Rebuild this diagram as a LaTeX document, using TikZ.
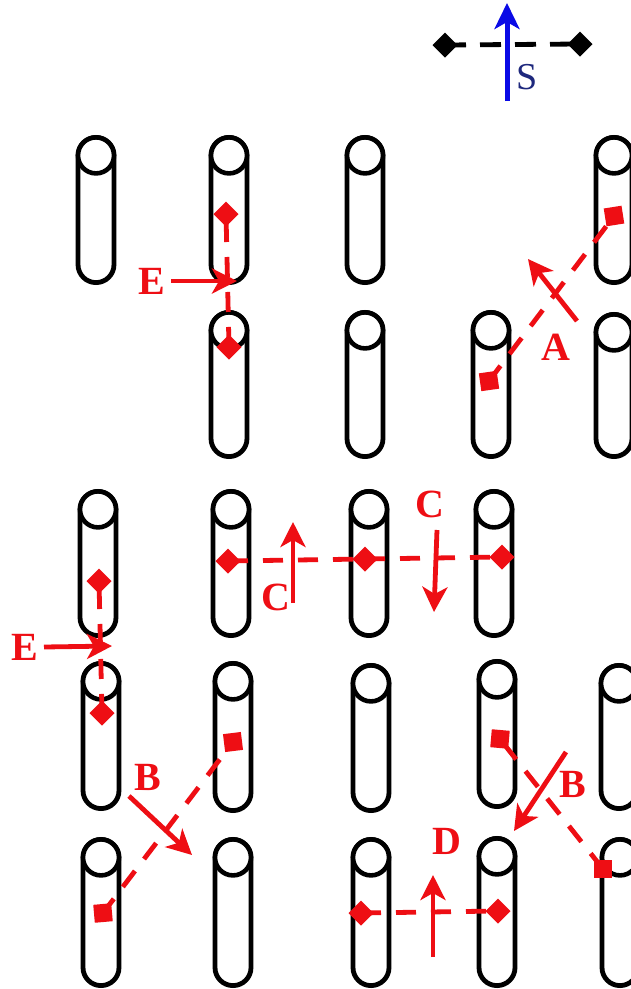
\documentclass[tikz,border=0pt]{standalone}
\usepackage{fontspec}
\setmainfont{Liberation Serif}
\usetikzlibrary{arrows.meta,shapes.geometric}
\definecolor{rd}{RGB}{238,14,20}
\definecolor{bl}{RGB}{10,10,230}
\definecolor{nv}{RGB}{30,40,125}
\tikzset{
  x=1pt,y=-1pt,
  tube/.style={draw=black,line width=4.8pt,rounded corners=18pt,minimum width=36pt,inner sep=0pt,outer sep=0pt},
  capcircle/.style={circle,draw=black,fill=white,line width=4.6pt,minimum size=36pt,inner sep=0pt,outer sep=0pt},
  rdia/.style={diamond,fill=rd,minimum width=25pt,minimum height=25pt,inner sep=0pt,outer sep=0pt},
  kdia/.style={diamond,fill=black,minimum width=25pt,minimum height=25pt,inner sep=0pt,outer sep=0pt},
  rsq/.style={rectangle,fill=rd,minimum size=18pt,inner sep=0pt,outer sep=0pt},
  bond/.style={rd,line width=4.8pt,dash pattern=on 20pt off 15pt},
  vec/.style={rd,line width=4.8pt,-{Stealth[length=25pt,width=25pt,inset=7pt]}},
  lab/.style={text=rd,font=\fontsize{40}{40}\selectfont\bfseries,inner sep=0pt},
}
\begin{document}
\begin{tikzpicture}
\useasboundingbox (0,0) rectangle (631,989);
\fill[white] (0,0) rectangle (631,989);
% capsules: name / x / outer top / outer bottom
\foreach \myn/\myx/\myt/\myb in {
 a/96/135/285,b/229/135/285,c/365/135/285,d/614/135/285,
 e/229/310/459,f/365/310/459,g/491/310/459,h/614/312/459,
 i/98/489/638,j/231/489/638,k/369/489/638,l/494/489/638,
 m/101/661/811,n/233/661/813,o/371/663/813,p/497/659/809,q/619/663/811,
 r/101/837/988,s/233/837/988,t/371/837/988,u/497/836/988,v/620/837/988}{
  \pgfmathsetmacro\mymid{(\myt+\myb)/2}
  \pgfmathsetmacro\myh{\myb-\myt-4.8}
  \pgfmathsetmacro\myc{\myt+20.4}
  \node[tube,minimum height=\myh pt] (tube\myn) at (\myx,\mymid) {};
  \node[capcircle] (cap\myn) at (\myx,\myc) {};
}
% legend
\node[kdia] (k1) at (445,45) {};
\node[kdia] (k2) at (580,44) {};
\draw[black,line width=4.8pt,dash pattern=on 21pt off 14pt] (k1.center) -- (k2.center);
\coordinate (s0) at (507,101);
\coordinate (s1) at (507,3);
\draw[bl,line width=5pt,-{Stealth[length=26pt,width=25pt,inset=7pt]}] (s0) -- (s1);
\node[text=nv,font=\fontsize{38}{38}\selectfont,inner sep=0pt] (sl) at (527,77) {S};
% E top
\node[rdia] (d1) at (226,214) {};
\node[rdia] (d2) at (229,347) {};
\draw[bond,dash phase=27pt] (d1.center) -- (d2.center);
\node[lab] (e1) at (152,281) {E};
\coordinate (e1a) at (171,281);
\coordinate (e1b) at (237,281);
\draw[vec] (e1a) -- (e1b);
% A
\node[rsq,rotate=9] (s1a) at (614,216) {};
\node[rsq,rotate=8] (s1b) at (489,381) {};
\draw[bond,dash phase=22pt] (s1a.center) -- (s1b.center);
\coordinate (a0) at (577,321);
\coordinate (a1) at (528,259);
\draw[vec] (a0) -- (a1);
\node[lab] (al) at (556,347) {A};
% C row
\node[rdia] (d3) at (228,561) {};
\node[rdia] (d4) at (365,559) {};
\node[rdia] (d5) at (502,557) {};
\draw[bond] (d3.center) -- (d4.center);
\draw[bond] (d4.center) -- (d5.center);
\coordinate (c0) at (293,603);
\coordinate (c1) at (293,522);
\draw[vec] (c0) -- (c1);
\coordinate (c2) at (437,530);
\coordinate (c3) at (434,612);
\draw[vec] (c2) -- (c3);
\node[lab] (cl1) at (276,597) {C};
\node[lab] (cl2) at (430,504) {C};
% E left
\node[rdia] (d6) at (99,581) {};
\node[rdia] (d7) at (102,713) {};
\draw[bond,dash phase=27pt] (d6.center) -- (d7.center);
\node[lab] (e2) at (25,647) {E};
\coordinate (e2a) at (44,647);
\coordinate (e2b) at (112,646);
\draw[vec] (e2a) -- (e2b);
% B left
\node[rsq,rotate=7] (s2a) at (233,742) {};
\node[rsq,rotate=5] (s2b) at (103,913) {};
\draw[bond,dash phase=13pt] (s2a.center) -- (s2b.center);
\coordinate (b0) at (129,796);
\coordinate (b1) at (192,855);
\draw[vec] (b0) -- (b1);
\node[lab] (bl1) at (148,777) {B};
% B right
\node[rsq,rotate=-5] (s3a) at (500,739) {};
\node[rsq] (s3b) at (603,869) {};
\draw[bond,dash phase=29pt] (s3a.center) -- (s3b.center);
\coordinate (b2) at (566,752);
\coordinate (b3) at (514,831);
\draw[vec] (b2) -- (b3);
\node[lab] (bl2) at (573,784) {B};
% D
\node[rdia] (d8) at (361,913) {};
\node[rdia] (d9) at (498,911) {};
\draw[bond] (d8.center) -- (d9.center);
\coordinate (d0) at (433,957);
\coordinate (dd) at (433,875);
\draw[vec] (d0) -- (dd);
\node[lab] (dl) at (447,841) {D};
\end{tikzpicture}
\end{document}
